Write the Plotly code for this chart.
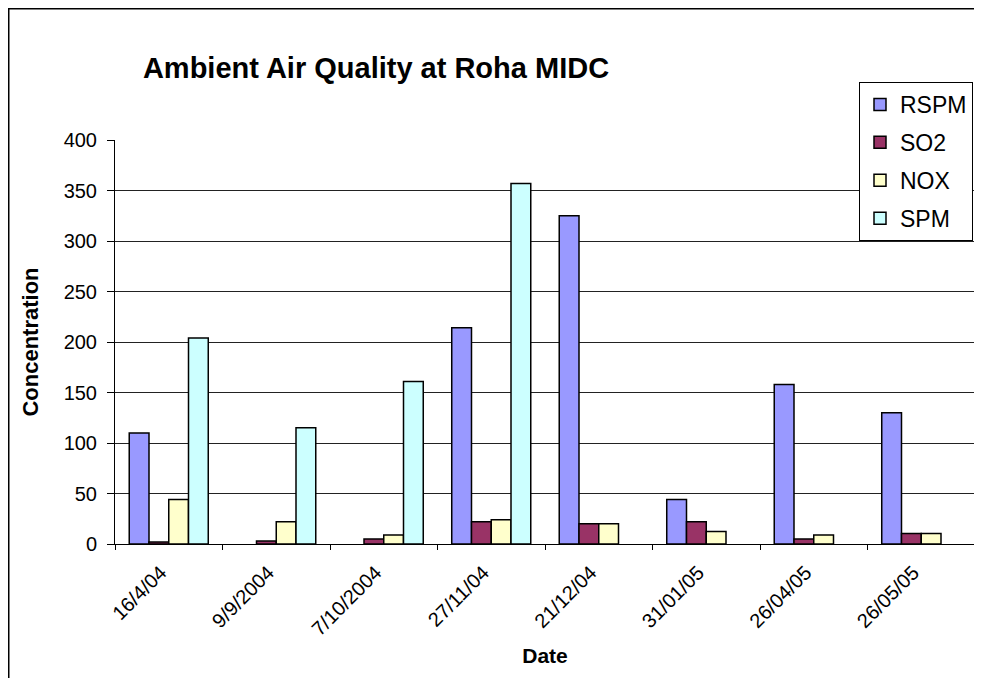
import plotly.graph_objects as go

dates = ["16/4/04", "9/9/2004", "7/10/2004", "27/11/04",
         "21/12/04", "31/01/05", "26/04/05", "26/05/05"]
rspm = [110, None, None, 214, 325, 44, 158, 130]
so2 = [2, 3, 5, 22, 20, 22, 5, 10.5]
nox = [44, 22, 9, 24, 20, 12.5, 9, 10.5]
spm = [204, 115, 161, 357, None, None, None, None]

series = [
    ("RSPM", rspm, "#9999FF"),
    ("SO2", so2, "#993366"),
    ("NOX", nox, "#FFFFCC"),
    ("SPM", spm, "#CCFFFF"),
]

FONT = "Liberation Sans, Arial, sans-serif"

# page body has an 8px margin, so the figure starts at (8, 8) on screen
OFF = 8
W, H = 982 - OFF, 678 - OFF
L, T = 115 - OFF, 140 - OFF
pw, ph = 860, 404
R, B = W - L - pw, H - T - ph


def px_x(x):
    # screen pixel -> paper x
    return (x - OFF - L) / pw


def px_y(y):
    # screen pixel -> paper y
    return (T + ph - (y - OFF)) / ph


fig = go.Figure()
for name, vals, color in series:
    fig.add_trace(go.Bar(
        name=name,
        x=dates,
        y=vals,
        legendgroup=name,
        marker=dict(color=color, line=dict(color="black", width=1.5)),
    ))

fig.update_layout(
    width=W,
    height=H,
    margin=dict(l=L, r=R, t=T, b=B, autoexpand=False),
    paper_bgcolor="white",
    plot_bgcolor="white",
    barmode="group",
    bargap=0.265,
    bargroupgap=0,
    font=dict(family=FONT, color="black", size=19),
    title=dict(
        text="<b>Ambient Air Quality at Roha MIDC</b>",
        font=dict(size=29, family=FONT, color="black"),
        x=(376 - OFF) / W, xref="container", xanchor="center",
        y=1 - (68 - OFF) / H, yref="container", yanchor="middle",
    ),
    legend=dict(
        x=px_x(859), y=px_y(82), xanchor="left", yanchor="top",
        bgcolor="white", bordercolor="black", borderwidth=1,
        font=dict(size=23, family=FONT),
        tracegroupgap=5,
        traceorder="grouped",
    ),
    xaxis=dict(
        type="category",
        tickangle=-45,
        tickson="boundaries",
        ticks="outside", ticklen=5, tickcolor="black",
        showline=True, linecolor="black", linewidth=1,
        showgrid=False,
        tickfont=dict(size=20),
        ticklabelstandoff=8,
        ticklabelshift=-8,
        title=dict(text="<b>Date</b>", font=dict(size=21), standoff=9),
    ),
    yaxis=dict(
        range=[0, 400],
        dtick=50,
        ticks="outside", ticklen=7, tickcolor="black",
        showline=True, linecolor="black", linewidth=1,
        showgrid=True, gridcolor="#222222", gridwidth=1,
        zeroline=False,
        tickfont=dict(size=20),
        ticklabelstandoff=6,
        title=dict(text="<b>Concentration</b>", font=dict(size=22), standoff=18),
    ),
    shapes=[dict(
        type="rect", xref="paper", yref="paper",
        x0=-(L - 0.75) / pw, x1=(pw + R + 20) / pw,
        y0=-(B + 20) / ph, y1=1 + (T - 0.75) / ph,
        line=dict(color="black", width=1.5), layer="above",
    )],
)

fig.write_html("out.html")
